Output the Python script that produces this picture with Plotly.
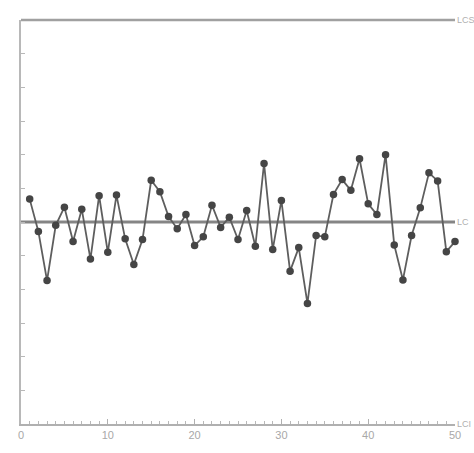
import plotly.graph_objects as go

# Sample number and measured values (in sigma units)
samples = list(range(1, 51))
values = [0.34, -0.14, -0.87, -0.05, 0.22, -0.29, 0.19, -0.55, 0.39, -0.45,
          0.40, -0.25, -0.63, -0.26, 0.62, 0.45, 0.08, -0.10, 0.11, -0.35,
          -0.22, 0.25, -0.08, 0.07, -0.26, 0.17, -0.36, 0.87, -0.41, 0.32,
          -0.73, -0.38, -1.21, -0.20, -0.22, 0.41, 0.63, 0.47, 0.94, 0.27,
          0.11, 1.00, -0.34, -0.86, -0.20, 0.21, 0.73, 0.61, -0.44, -0.29]

ucl = 3.0
cl = 0.0
lcl = -3.0
limit_labels = ["LCS", "LC", "LCI"]
x_ticks = [0, 10, 20, 30, 40, 50]

fig = go.Figure()
fig.add_trace(go.Scatter(
    x=samples, y=values, mode="lines+markers",
    line=dict(color="#5e5e5e", width=1.8),
    marker=dict(color="#454545", size=7.5),
    cliponaxis=False, showlegend=False,
))

# limit lines (upper limit forms the top frame, centre line across)
fig.add_shape(type="line", xref="paper", yref="paper", x0=0, x1=1.0,
              y0=1, y1=1, line=dict(color="#a0a0a0", width=2.4), layer="above")
fig.add_shape(type="line", xref="paper", yref="y", x0=0, x1=1.0,
              y0=cl, y1=cl, line=dict(color="#858585", width=2.8), layer="below")

for val, txt in zip([ucl, cl, lcl], limit_labels):
    fig.add_annotation(x=1.0, xref="paper", y=val, yref="y", text=txt,
                       showarrow=False, xanchor="left", xshift=0,
                       font=dict(size=9, color="#b0b0b0"))

fig.update_layout(
    width=474, height=453,
    margin=dict(l=21, r=19, t=20, b=24),
    paper_bgcolor="white", plot_bgcolor="white",
    font=dict(family="Liberation Sans, Arial, sans-serif"),
    xaxis=dict(range=[0, 50], tickvals=x_ticks, ticks="inside", ticklen=5,
               tickcolor="#b0b0b0", showline=True, linecolor="#b0b0b0",
               linewidth=1.5, showgrid=False, zeroline=False,
               tickfont=dict(size=11, color="#a8a8a8"),
               minor=dict(dtick=1, ticks="inside", ticklen=3,
                          tickcolor="#b8b8b8", showgrid=False)),
    yaxis=dict(range=[lcl, ucl], dtick=0.5, ticks="inside", ticklen=4,
               tickcolor="#b8b8b8", showline=True, linecolor="#b8b8b8",
               linewidth=1.5, showgrid=False, zeroline=False,
               showticklabels=False),
)

fig.write_html("out.html", config={"displayModeBar": False},
               post_script="document.body.style.margin='0';document.body.style.padding='0';")
